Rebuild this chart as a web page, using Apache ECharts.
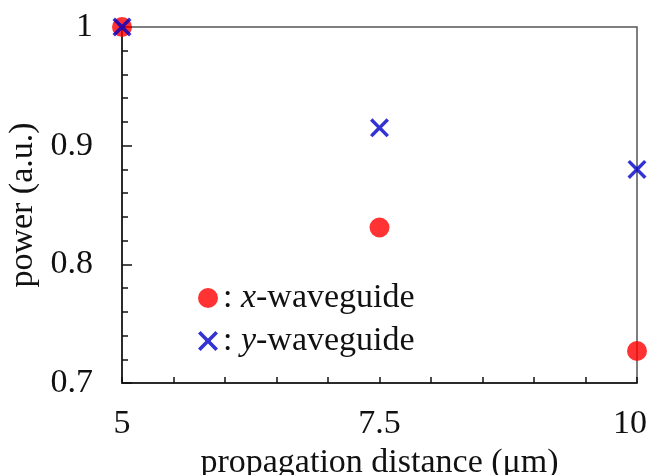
<!DOCTYPE html>
<html>
<head>
<meta charset="utf-8">
<script src="https://cdn.jsdelivr.net/npm/echarts@6/dist/echarts.min.js"></script>
<style>
  html, body { margin: 0; padding: 0; background: #fff; }
  #chart { width: 657px; height: 475px; }
</style>
</head>
<body>
<div id="chart"></div>
<script>
// Propagation distance (μm) and normalised power for each waveguide
const distances = [5, 7.5, 10];
const xWaveguidePower = [1.0, 0.831, 0.727];
const yWaveguidePower = [1.0, 0.915, 0.880];
const xTickLabels = [5, 7.5, 10];

const FONT = "'Liberation Serif', 'Times New Roman', serif";

// Filled "×" outline in a 20×20 box
const CROSS = 'path://M0,2.6 L2.6,0 L10,7.4 L17.4,0 L20,2.6 L12.6,10 L20,17.4 L17.4,20 L10,12.6 L2.6,20 L0,17.4 L7.4,10 Z';

const pairs = (ys) => distances.map((d, i) => [d, ys[i]]);
const lastTick = xTickLabels[xTickLabels.length - 1];

const chart = echarts.init(document.getElementById('chart'), null, { renderer: 'canvas' });

chart.setOption({
  backgroundColor: '#ffffff',
  animation: false,
  textStyle: { fontFamily: FONT },
  grid: {
    left: 122, right: 20, top: 27, bottom: 92,
    containLabel: false, outerBoundsMode: 'none',
    show: true, borderColor: '#555', borderWidth: 1.5, backgroundColor: 'transparent'
  },
  legend: {
    orient: 'vertical',
    left: 193, top: 276,
    itemWidth: 20, itemHeight: 20, itemGap: 9,
    textStyle: {
      fontFamily: FONT, fontSize: 34, color: '#111',
      rich: { i: { fontFamily: FONT, fontSize: 34, fontStyle: 'italic', color: '#111' } }
    },
    formatter: (name) => ': {i|' + name.charAt(0) + '}' + name.slice(1),
    data: ['x-waveguide', 'y-waveguide']
  },
  xAxis: {
    type: 'value', min: 5, max: 10, interval: 0.5,
    name: 'propagation distance (μm)', nameLocation: 'middle', nameGap: 58,
    nameTextStyle: { fontFamily: FONT, fontSize: 34, color: '#111' },
    axisLine: { lineStyle: { color: '#111', width: 1.5 } },
    axisTick: { inside: true, length: 6, lineStyle: { color: '#111', width: 1.5 } },
    axisLabel: {
      margin: 24, fontFamily: FONT, fontSize: 34, color: '#111',
      // the end label sits slightly inside the plot's right edge
      rich: { end: { fontFamily: FONT, fontSize: 34, color: '#111', padding: [0, 14, 0, 0] } },
      formatter: (v) => {
        if (!xTickLabels.includes(v)) return '';
        return v === lastTick ? '{end|' + v + '}' : String(v);
      }
    },
    splitLine: { show: false }
  },
  yAxis: {
    type: 'value', min: 0.7, max: 1.0, interval: 0.1,
    name: 'power (a.u.)', nameLocation: 'middle', nameGap: 78,
    nameTextStyle: { fontFamily: FONT, fontSize: 34, color: '#111' },
    axisLine: { show: true, lineStyle: { color: '#111', width: 1.5 } },
    axisTick: { inside: true, length: 10, lineStyle: { color: '#111', width: 1.5 } },
    minorTick: { show: true, splitNumber: 5, length: 6, lineStyle: { color: '#111', width: 1.5 } },
    axisLabel: {
      margin: 29, fontFamily: FONT, fontSize: 34, color: '#111',
      formatter: (v) => Math.abs(v - 1) < 1e-9 ? '1' : v.toFixed(1)
    },
    splitLine: { show: false }
  },
  series: [
    {
      name: 'x-waveguide', type: 'scatter',
      symbol: 'circle', symbolSize: 20,
      itemStyle: { color: '#ff0000' },
      data: pairs(xWaveguidePower), z: 3
    },
    {
      name: 'y-waveguide', type: 'scatter',
      symbol: CROSS, symbolSize: 19,
      itemStyle: { color: '#0000c8' },
      data: pairs(yWaveguidePower), z: 4
    }
  ]
});
</script>
</body>
</html>
